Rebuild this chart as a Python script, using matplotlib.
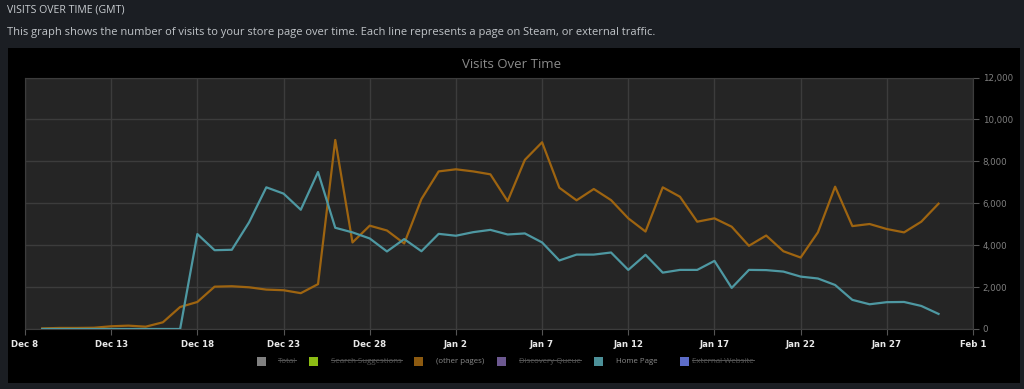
import numpy as np
import matplotlib
matplotlib.use("Agg")
import matplotlib.pyplot as plt
import matplotlib.dates as mdates
from matplotlib.patches import Rectangle

# data, one value per day from Dec 9 to Jan 30
start_day = np.datetime64("2023-12-09")
other_pages = [30, 50, 50, 60, 130, 160, 110, 320, 1050, 1290,
               2020, 2040, 1990, 1880, 1850, 1710, 2140, 9020, 4130, 4930,
               4700, 4080, 6200, 7520, 7620, 7520, 7380, 6100, 8070, 8910,
               6740, 6140, 6680, 6150, 5280, 4650, 6760, 6310, 5120, 5280,
               4880, 3970, 4460, 3710, 3410, 4610, 6790, 4910, 5010, 4770,
               4610, 5120, 5980]
home_page = [0, 0, 0, 0, 0, 0, 0, 0, 0, 4530,
             3760, 3780, 5090, 6760, 6460, 5690, 7490, 4830, 4610, 4320,
             3700, 4290, 3710, 4540, 4450, 4620, 4730, 4510, 4560, 4130,
             3270, 3550, 3550, 3650, 2820, 3540, 2690, 2820, 2820, 3250,
             1960, 2820, 2810, 2740, 2500, 2410, 2100, 1390, 1180, 1280,
             1290, 1100, 720]
days = start_day + np.arange(len(other_pages))

x_ticks = np.datetime64("2023-12-08") + np.arange(0, 56, 5)
y_ticks = [0, 2000, 4000, 6000, 8000, 10000, 12000]

legend_names = ["Total", "Search Suggestions", "(other pages)",
                "Discovery Queue", "Home Page", "External Website"]
legend_colors = ["#808080", "#8cbc14", "#8c5a10", "#6c5890", "#4c9098", "#5c6cc8"]
legend_shown = [False, False, True, False, True, False]

W, H = 1024, 389
fig = plt.figure(figsize=(W / 100, H / 100), dpi=100)
fig.patch.set_facecolor("#1b1e23")
fig.patches.append(Rectangle((8 / W, 1 - 383 / H), (1020 - 8) / W, (383 - 48) / H,
                             transform=fig.transFigure, facecolor="#000000",
                             edgecolor="none", zorder=-1))

fig.text(7 / W, 1 - 10 / H, "VISITS OVER TIME (GMT)", color="#c8ccd0",
         fontsize=7.6, va="center", ha="left", family="Open Sans")
fig.text(7 / W, 1 - 32 / H,
         "This graph shows the number of visits to your store page over time. "
         "Each line represents a page on Steam, or external traffic.",
         color="#c0c4c8", fontsize=8.0, va="center", ha="left", family="Open Sans")

ax = fig.add_axes([25 / W, 1 - 329 / H, (973 - 25) / W, (329 - 77.5) / H])
ax.set_zorder(2)
ax.set_facecolor("#252525")
ax.plot(days, other_pages, color="#9e6410", lw=1.6, zorder=3)
ax.plot(days, home_page, color="#4e98a2", lw=1.6, zorder=3)

ax.set_xlim(x_ticks[0], x_ticks[-1])
ax.set_ylim(0, 12000)
ax.set_xticks(x_ticks)
ax.xaxis.set_major_formatter(mdates.DateFormatter("%b %-d"))
ax.set_yticks(y_ticks)
ax.set_yticklabels([f"{v:,}" for v in y_ticks])
ax.yaxis.tick_right()
ax.grid(True, color="#3c3c3c", lw=1)
ax.set_axisbelow(True)
for s in ax.spines.values():
    s.set_color("#3c3c3c")
ax.tick_params(axis="x", colors="#555555", length=4, labelcolor="#e8e8e8",
               labelsize=6.2, pad=4)
ax.tick_params(axis="y", colors="#555555", length=4, labelcolor="#808080",
               labelsize=6.2, pad=3)
for lab in ax.get_xticklabels():
    lab.set_fontweight("bold")

fig.text(512 / W, 1 - 64 / H, "Visits Over Time", color="#8a8a8a", fontsize=9.5,
         ha="center", va="center", family="Open Sans")

# legend drawn by hand so hidden series can be struck through
sq_x = [261, 313, 418, 501, 598, 684]
txt_x = [278, 331, 436, 519, 616, 692]
ly = 1 - 361.5 / H
fig.canvas.draw()
renderer = fig.canvas.get_renderer()
for name, col, shown, sx, tx in zip(legend_names, legend_colors, legend_shown, sq_x, txt_x):
    fig.patches.append(Rectangle(((sx - 4.5) / W, ly - 4.5 / H), 9 / W, 9 / H,
                                 transform=fig.transFigure, facecolor=col,
                                 edgecolor="none"))
    t = fig.text(tx / W, ly, name, fontsize=5.7, va="center", ha="left",
                 color="#8a8a8a" if shown else "#555555", family="Open Sans")
    if not shown:
        bb = t.get_window_extent(renderer)
        sy = ly + 1.2 / H
        fig.add_artist(plt.Line2D([bb.x0 / W, bb.x1 / W], [sy, sy], color="#555555",
                                  lw=0.7, transform=fig.transFigure))

fig.savefig("out.png", dpi=100, facecolor=fig.get_facecolor())
